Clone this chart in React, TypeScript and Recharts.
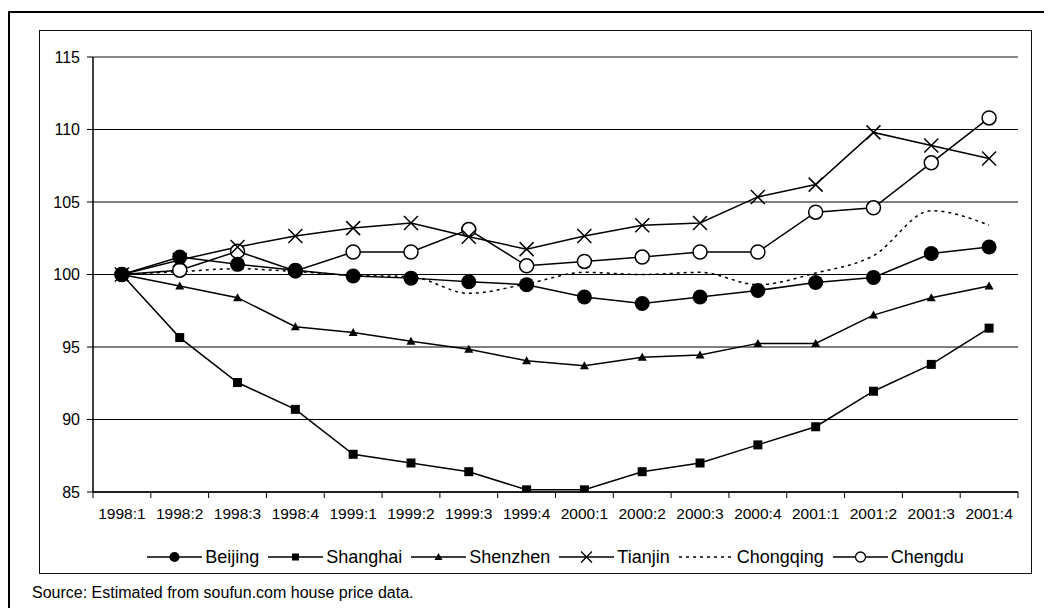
import React from 'react';
import { LineChart, Line, XAxis, YAxis, CartesianGrid, ReferenceLine } from 'recharts';

const quarters = [
  '1998:1', '1998:2', '1998:3', '1998:4', '1999:1', '1999:2', '1999:3', '1999:4',
  '2000:1', '2000:2', '2000:3', '2000:4', '2001:1', '2001:2', '2001:3', '2001:4',
];

const beijing = [100, 101.2, 100.7, 100.3, 99.9, 99.75, 99.5, 99.3, 98.45, 98.0, 98.45, 98.9, 99.45, 99.8, 101.45, 101.9];
const shanghai = [100, 95.65, 92.55, 90.7, 87.6, 87.0, 86.4, 85.15, 85.15, 86.4, 87.0, 88.25, 89.5, 91.95, 93.8, 96.3];
const shenzhen = [100, 99.2, 98.4, 96.4, 96.0, 95.4, 94.85, 94.05, 93.7, 94.3, 94.45, 95.25, 95.25, 97.2, 98.4, 99.2];
const tianjin = [100, 101.0, 101.9, 102.65, 103.2, 103.55, 102.6, 101.75, 102.65, 103.4, 103.55, 105.35, 106.2, 109.8, 108.9, 108.0];
const chongqing = [100, 100.2, 100.4, 100.2, 99.95, 99.85, 98.7, 99.35, 100.15, 100.0, 100.15, 99.3, 100.1, 101.3, 104.4, 103.4];
const chengdu = [100, 100.3, 101.6, 100.25, 101.55, 101.55, 103.1, 100.6, 100.9, 101.2, 101.55, 101.55, 104.3, 104.6, 107.7, 110.8];

const yTicks = [85, 90, 95, 100, 105, 110, 115];
const source = 'Source: Estimated from soufun.com house price data.';

const data = quarters.map((q, i) => ({
  idx: i,
  q,
  Beijing: beijing[i],
  Shanghai: shanghai[i],
  Shenzhen: shenzhen[i],
  Tianjin: tianjin[i],
  Chongqing: chongqing[i],
  Chengdu: chengdu[i],
}));

// integer ticks carry labels, half ticks are the category boundaries
const xTicks: number[] = [];
for (let i = -0.5; i <= 15.5; i += 0.5) xTicks.push(i);

const FONT = '"Liberation Sans", Arial, Helvetica, sans-serif';

type Shape = 'circle' | 'square' | 'triangle' | 'cross' | 'ring' | 'none';

function marker(shape: Shape, cx: number, cy: number, key?: string | number) {
  switch (shape) {
    case 'circle':
      return <circle key={key} cx={cx} cy={cy} r={7.5} fill="#000" />;
    case 'square':
      return <rect key={key} x={cx - 4.5} y={cy - 4.5} width={9} height={9} fill="#000" />;
    case 'triangle':
      return <path key={key} d={`M${cx},${cy - 4.5} L${cx + 4.5},${cy + 3.5} L${cx - 4.5},${cy + 3.5} Z`} fill="#000" />;
    case 'cross':
      return (
        <path key={key} d={`M${cx - 7},${cy - 7} L${cx + 7},${cy + 7} M${cx - 7},${cy + 7} L${cx + 7},${cy - 7}`}
          stroke="#000" strokeWidth={1.5} fill="none" />
      );
    case 'ring':
      return <circle key={key} cx={cx} cy={cy} r={7} fill="#fff" stroke="#000" strokeWidth={1.5} />;
    default:
      return <g key={key} />;
  }
}

const series: Array<{ key: string; shape: Shape; dashed?: boolean }> = [
  { key: 'Beijing', shape: 'circle' },
  { key: 'Shanghai', shape: 'square' },
  { key: 'Shenzhen', shape: 'triangle' },
  { key: 'Tianjin', shape: 'cross' },
  { key: 'Chongqing', shape: 'none', dashed: true },
  { key: 'Chengdu', shape: 'ring' },
];

function XTick(props: any) {
  const { x, y, payload } = props;
  const v = payload.value as number;
  if (Number.isInteger(v)) {
    return (
      <text x={x} y={y + 21} dy="0.36em" textAnchor="middle" fontSize={15.5} fill="#000" fontFamily={FONT}>
        {quarters[v]}
      </text>
    );
  }
  return <line x1={x} y1={y} x2={x} y2={y + 6} stroke="#000" strokeWidth={1} />;
}

function LegendRow() {
  return (
    <div style={{ display: 'flex', justifyContent: 'center', alignItems: 'center', gap: 9 }}>
      {series.map((s) => (
        <div key={s.key} style={{ display: 'flex', alignItems: 'center' }}>
          <svg width={55} height={18} style={{ display: 'block' }}>
            <line x1={0} y1={9} x2={55} y2={9} stroke="#000" strokeWidth={1.5}
              strokeDasharray={s.dashed ? '3 4' : undefined} />
            {s.shape === 'circle' && <circle cx={27.5} cy={9} r={5} fill="#000" />}
            {s.shape === 'square' && <rect x={24} y={5.5} width={7} height={7} fill="#000" />}
            {s.shape === 'triangle' && <path d="M27.5,5 L31.5,12 L23.5,12 Z" fill="#000" />}
            {s.shape === 'cross' && <path d="M22,3.5 L33,14.5 M22,14.5 L33,3.5" stroke="#000" strokeWidth={1.3} />}
            {s.shape === 'ring' && <circle cx={27.5} cy={9} r={5} fill="#fff" stroke="#000" strokeWidth={1.3} />}
          </svg>
          <span style={{ marginLeft: 3, fontSize: 18, lineHeight: '18px' }}>{s.key}</span>
        </div>
      ))}
    </div>
  );
}

export default function App() {
  return (
    <div style={{ position: 'relative', width: 1044, height: 600, overflow: 'hidden', fontFamily: FONT, color: '#000', background: '#fff' }}>
      <div style={{ position: 'absolute', left: 0, top: 3, width: 1200, height: 800, borderLeft: '2px solid #000', borderTop: '2px solid #000' }} />
      <div style={{ position: 'absolute', left: 31, top: 22, width: 993, height: 544, boxSizing: 'border-box', border: '1.5px solid #111' }} />
      <div style={{ position: 'absolute', left: 31, top: 22 }}>
        <LineChart width={992} height={543} data={data} margin={{ top: 27, right: 13, left: 14, bottom: 51 }}>
          <CartesianGrid vertical={false} stroke="#000" strokeWidth={1} />
          <ReferenceLine y={115} stroke="#888" strokeWidth={2} />
          <XAxis
            dataKey="idx"
            type="number"
            domain={[-0.5, 15.5]}
            ticks={xTicks}
            interval={0}
            tick={<XTick />}
            tickLine={false}
            tickSize={0}
            tickMargin={0}
            axisLine={{ stroke: '#000', strokeWidth: 1.5 }}
            height={30}
          />
          <YAxis
            domain={[85, 115]}
            ticks={yTicks}
            interval={0}
            allowDataOverflow
            width={40}
            tickSize={6}
            tickMargin={7}
            tick={{ fontSize: 16, fill: '#000', fontFamily: FONT }}
            tickLine={{ stroke: '#000' }}
            axisLine={{ stroke: '#000', strokeWidth: 1.5 }}
          />
          <YAxis
            yAxisId="frame"
            orientation="right"
            domain={[85, 115]}
            width={0}
            tick={false}
            tickLine={false}
            axisLine={{ stroke: '#888', strokeWidth: 2 }}
          />
          {[...series].reverse().map((s) => (
            <Line
              key={s.key}
              dataKey={s.key}
              type={s.dashed ? 'monotone' : 'linear'}
              stroke="#000"
              strokeWidth={1.5}
              strokeDasharray={s.dashed ? '3 4' : undefined}
              dot={s.shape === 'none' ? false : (p: any) => marker(s.shape, p.cx, p.cy, p.key ?? `${s.key}-${p.index}`)}
              activeDot={false}
              isAnimationActive={false}
            />
          ))}
        </LineChart>
      </div>
      <div style={{ position: 'absolute', left: 85, width: 925, top: 540 }}>
        <LegendRow />
      </div>
      <div style={{ position: 'absolute', left: 24, top: 576, fontSize: 16, lineHeight: '18px' }}>{source}</div>
    </div>
  );
}
